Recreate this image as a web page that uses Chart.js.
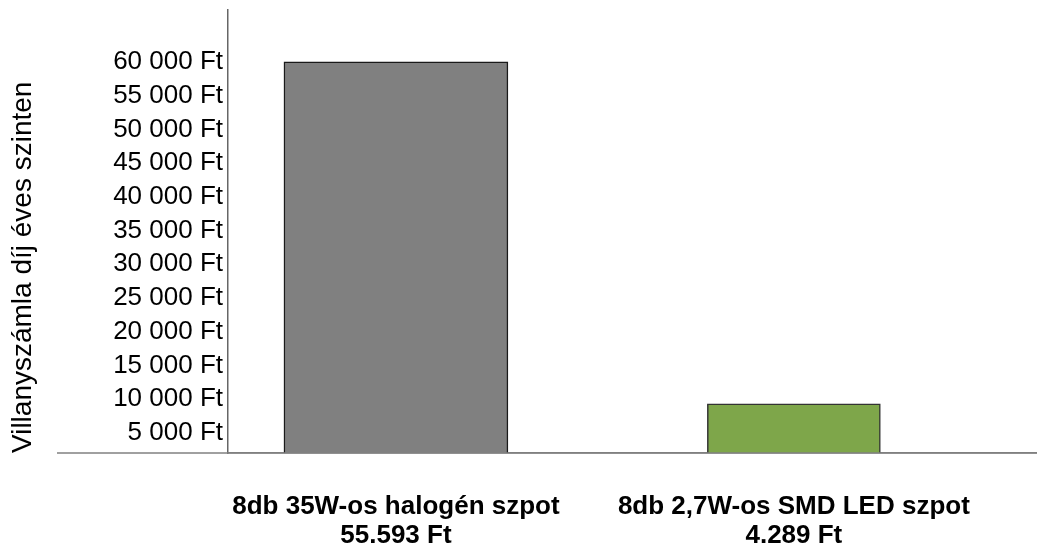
<!DOCTYPE html>
<html>
<head>
<meta charset="utf-8">
<script src="https://cdn.jsdelivr.net/npm/chart.js@4"></script>
<style>
  body { margin: 0; background: #fff; }
  #wrap { width: 1037px; height: 547px; position: relative; }
</style>
</head>
<body>
<div id="wrap"><canvas id="chart"></canvas></div>
<script>
// Chart data
const categories = [
  ['8db 35W-os halogén szpot', '55.593 Ft'],
  ['8db 2,7W-os SMD LED szpot', '4.289 Ft']
];
const categoryPositions = [1, 2];
const barValues = [60000, 9300];
const yTickValues = [5000, 10000, 15000, 20000, 25000, 30000, 35000, 40000, 45000, 50000, 55000, 60000];
const yTickLabels = ['5 000 Ft', '10 000 Ft', '15 000 Ft', '20 000 Ft', '25 000 Ft', '30 000 Ft',
  '35 000 Ft', '40 000 Ft', '45 000 Ft', '50 000 Ft', '55 000 Ft', '60 000 Ft'];
const yTitle = 'Villanyszámla díj éves szinten';

// styles
const barColors = ['#808080', '#7ea64a'];
const barBorders = ['#1a1a1a', '#333333'];
const barWidths = [224, 173];
const FONT = "'Liberation Sans', Arial, sans-serif";

// Extend the baseline to the left of the value axis
const baselinePlugin = {
  id: 'baseline',
  afterDraw(chart) {
    const ctx = chart.ctx;
    const y = chart.chartArea.bottom;
    ctx.save();
    ctx.strokeStyle = '#808080';
    ctx.lineWidth = 1.5;
    ctx.beginPath();
    ctx.moveTo(57, y);
    ctx.lineTo(chart.chartArea.right, y);
    ctx.stroke();
    ctx.restore();
  }
};

const datasets = barValues.map((v, i) => ({
  data: [{ x: categoryPositions[i], y: v }],
  backgroundColor: barColors[i],
  borderColor: barBorders[i],
  borderWidth: 1.5,
  barThickness: barWidths[i],
  grouped: false
}));

new Chart(document.getElementById('chart'), {
  type: 'bar',
  data: { datasets: datasets },
  plugins: [baselinePlugin],
  options: {
    responsive: true,
    maintainAspectRatio: false,
    animation: false,
    layout: { padding: { top: 10, right: 0, left: 0, bottom: 0 } },
    plugins: { legend: { display: false }, tooltip: { enabled: false } },
    scales: {
      x: {
        type: 'linear',
        offset: false,
        min: 0.578,
        max: 2.611,
        grid: { display: false, drawTicks: false, offset: false },
        border: { display: true, color: '#808080', width: 1.5 },
        afterBuildTicks: axis => { axis.ticks = categoryPositions.map(p => ({ value: p })); },
        afterFit: axis => { axis.height = 94; axis.paddingLeft = 0; axis.paddingRight = 0; },
        ticks: {
          autoSkip: false,
          maxRotation: 0,
          padding: 40,
          color: '#000',
          font: { family: FONT, size: 26, weight: 'bold', lineHeight: 1.1 },
          callback: (value) => categories[categoryPositions.indexOf(value)]
        }
      },
      y: {
        min: 2000,
        max: 67700,
        grid: { display: false, drawTicks: false },
        border: { display: true, color: '#666666', width: 1.5 },
        afterBuildTicks: axis => { axis.ticks = yTickValues.map(v => ({ value: v })); },
        afterFit: axis => { axis.width = 228; axis.paddingTop = 0; axis.paddingBottom = 0; },
        ticks: {
          autoSkip: false,
          padding: 5,
          color: '#000',
          font: { family: FONT, size: 26 },
          callback: (value) => yTickLabels[yTickValues.indexOf(value)]
        },
        title: {
          display: true,
          text: yTitle,
          align: 'start',
          color: '#000',
          padding: { top: 6, bottom: 0 },
          font: { family: FONT, size: 28 }
        }
      }
    }
  }
});
</script>
</body>
</html>
